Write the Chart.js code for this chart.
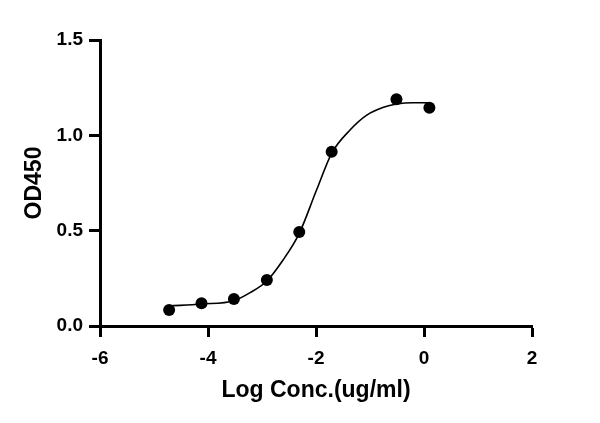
<!DOCTYPE html>
<html>
<head>
<meta charset="utf-8">
<script src="https://cdn.jsdelivr.net/npm/chart.js@4.4.1/dist/chart.umd.min.js"></script>
<style>
  html, body { margin: 0; padding: 0; background: #fff; }
  canvas { display: block; }
</style>
</head>
<body>
<canvas id="odChart" width="600" height="423"></canvas>
<script>
// measured points (log conc vs OD450)
const logConc = [-4.72, -4.12, -3.52, -2.91, -2.31, -1.71, -0.51, 0.10];
const od450 = [0.084, 0.119, 0.142, 0.241, 0.493, 0.914, 1.189, 1.145];

// fitted curve
const fitX = [-4.72, -4.12, -3.52, -3.22, -2.91, -2.61, -2.31, -1.99, -1.71, -1.37, -1.06, -0.75, -0.51, -0.20, 0.10];
const fitY = [0.105, 0.115, 0.133, 0.175, 0.236, 0.346, 0.486, 0.713, 0.906, 1.028, 1.106, 1.147, 1.164, 1.171, 1.171];

const xTicks = [-6, -4, -2, 0, 2];
const yTicks = [0.0, 0.5, 1.0, 1.5];

const FONT = "'Liberation Sans', Arial, sans-serif";

const pts = logConc.map((x, i) => ({ x: x, y: od450[i] }));
const curve = fitX.map((x, i) => ({ x: x, y: fitY[i] }));

new Chart(document.getElementById('odChart').getContext('2d'), {
    type: 'scatter',
    data: {
        datasets: [
            {
                data: curve,
                showLine: true,
                borderColor: '#000',
                borderWidth: 1.6,
                pointRadius: 0,
                cubicInterpolationMode: 'monotone',
                fill: false
            },
            {
                data: pts,
                pointRadius: 6,
                pointBackgroundColor: '#000',
                pointBorderColor: '#000',
                pointBorderWidth: 0
            }
        ]
    },
    options: {
        responsive: false,
        animation: false,
        layout: { padding: { left: 0, top: 40, right: 68, bottom: 0 } },
        plugins: { legend: { display: false }, tooltip: { enabled: false } },
        scales: {
            x: {
                type: 'linear',
                min: -6, max: 2,
                afterBuildTicks: s => { s.ticks = xTicks.map(v => ({ value: v })); },
                afterFit: s => { s.height = 97; },
                border: { display: true, color: '#000', width: 3 },
                grid: { drawOnChartArea: false, drawTicks: true, tickLength: 11, tickColor: '#000', tickWidth: 3 },
                ticks: {
                    color: '#000', padding: 10,
                    font: { family: FONT, size: 19, weight: 'bold' },
                    callback: v => String(v)
                },
                title: {
                    display: true, text: 'Log Conc.(ug/ml)', color: '#000',
                    font: { family: FONT, size: 23, weight: 'bold' },
                    padding: { top: 0, bottom: 19 }
                }
            },
            y: {
                type: 'linear',
                min: 0, max: 1.5,
                afterBuildTicks: s => { s.ticks = yTicks.map(v => ({ value: v })); },
                afterFit: s => { s.width = 100; },
                border: { display: true, color: '#000', width: 3 },
                grid: { drawOnChartArea: false, drawTicks: true, tickLength: 11, tickColor: '#000', tickWidth: 3 },
                ticks: {
                    color: '#000', padding: 6,
                    font: { family: FONT, size: 19, weight: 'bold' },
                    callback: v => Number(v).toFixed(1)
                },
                title: {
                    display: true, text: 'OD450', color: '#000',
                    font: { family: FONT, size: 23, weight: 'bold' },
                    padding: { top: 21, bottom: 0 }
                }
            }
        }
    }
});
</script>
</body>
</html>
